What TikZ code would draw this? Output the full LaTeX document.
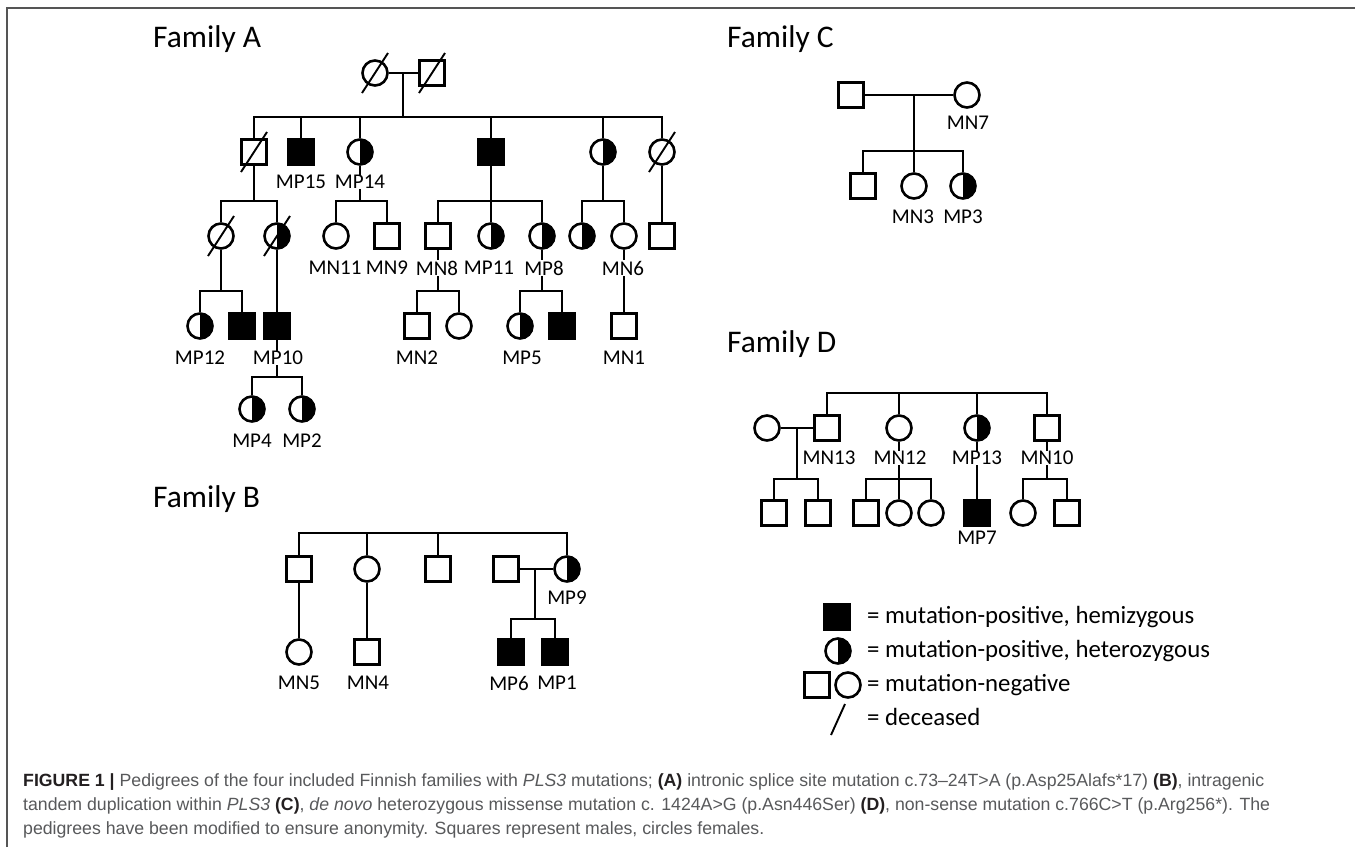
\documentclass[tikz,border=0pt]{standalone}
\usepackage{fontspec}
\setmainfont{Carlito}
\newfontfamily\capfont{Liberation Sans}
\usetikzlibrary{calc}
\definecolor{capgray}{HTML}{58595B}
\definecolor{capdark}{HTML}{231F20}
\definecolor{framegray}{HTML}{555555}
\newcommand\deceasedmark[1]{\draw[line width=1.9pt] ($(#1)+(-13,20)$) -- ($(#1)+(13,-20)$);}
\begin{document}
\begin{tikzpicture}[x=1pt,y=-1pt,
  ln/.style={line width=2.6pt},
  male/.style={draw, line width=2.6pt, rectangle, minimum size=24.5pt, inner sep=0pt, fill=white},
  female/.style={draw, line width=2.6pt, circle, minimum size=25pt, inner sep=0pt, fill=white},
  aff/.style={fill=black},
  het/.style={path picture={\fill[black] (path picture bounding box.north) rectangle (path picture bounding box.south east);}},
  lab/.style={font=\fontsize{21}{21}\selectfont, fill=white, inner sep=0.4pt},
  famtitle/.style={font=\fontsize{31.5}{31.5}\selectfont, anchor=base west, inner sep=0pt},
  legtext/.style={font=\fontsize{24.8}{24.8}\selectfont, anchor=base west, inner sep=0pt},
  captext/.style={font=\capfont\fontsize{17.7}{17.7}\selectfont, text=capgray, anchor=base west, inner sep=0pt},
]
\useasboundingbox (0,0) rectangle (1355,847);
\fill[white] (0,0) rectangle (1355,847);
\draw[framegray, line width=2pt] (7,847) -- (7,8) -- (1355,8);

% ---------------- Family A ----------------
\node[famtitle] (tA) at (153,47) {Family A};
\node[female] (a1) at (375,73) {};
\node[male] (a2) at (432,73) {};
\coordinate (ma) at (403,73);
\coordinate (sa) at (403,117);
\node[male] (a3) at (254,152) {};
\node[male,aff] (a4) at (301,152) {};
\node[female,het] (a5) at (360,152) {};
\node[male,aff] (a6) at (491,152) {};
\node[female,het] (a7) at (603,152) {};
\node[female] (a8) at (662,152) {};

\node[female] (b1) at (221,236) {};
\node[female,het] (b2) at (277,236) {};
\node[female] (b3) at (336,236) {};
\node[male] (b4) at (387,236) {};
\node[male] (b5) at (438,236) {};
\node[female,het] (b6) at (491,236) {};
\node[female,het] (b7) at (542,236) {};
\node[female,het] (b8) at (582,236) {};
\node[female] (b9) at (624,236) {};
\node[male] (b10) at (662,236) {};
\coordinate (sb1) at (254,201);
\coordinate (sb2) at (360,201);
\coordinate (sb3) at (491,201);
\coordinate (sb4) at (603,201);

\node[female,het] (c1) at (200,326) {};
\node[male,aff] (c2) at (242,326) {};
\node[male,aff] (c3) at (277,326) {};
\node[male] (c4) at (417,326) {};
\node[female] (c5) at (459,326) {};
\node[female,het] (c6) at (520,326) {};
\node[male,aff] (c7) at (562,326) {};
\node[male] (c8) at (624,326) {};
\coordinate (sc1) at (221,291);
\coordinate (sc2) at (438,291);
\coordinate (sc3) at (542,291);

\node[female,het] (d1) at (252,409) {};
\node[female,het] (d2) at (302,409) {};
\coordinate (sd1) at (277,377);

\draw[ln] (a1) -- (a2);
\draw[ln] (ma) -- (sa);
\foreach \n in {a3,a4,a5,a6,a7,a8} \draw[ln] (sa) -| (\n.north);
\draw[ln] (a3) -- (sb1);
\foreach \n in {b1,b2} \draw[ln] (sb1) -| (\n.north);
\draw[ln] (a5) -- (sb2);
\foreach \n in {b3,b4} \draw[ln] (sb2) -| (\n.north);
\draw[ln] (a6) -- (b6);
\foreach \n in {b5,b7} \draw[ln] (sb3) -| (\n.north);
\draw[ln] (a7) -- (sb4);
\foreach \n in {b8,b9} \draw[ln] (sb4) -| (\n.north);
\draw[ln] (a8) -- (b10);
\draw[ln] (b1) -- (sc1);
\foreach \n in {c1,c2} \draw[ln] (sc1) -| (\n.north);
\draw[ln] (b2) -- (c3);
\draw[ln] (b5) -- (sc2);
\foreach \n in {c4,c5} \draw[ln] (sc2) -| (\n.north);
\draw[ln] (b7) -- (sc3);
\foreach \n in {c6,c7} \draw[ln] (sc3) -| (\n.north);
\draw[ln] (b9) -- (c8);
\draw[ln] (c3) -- (sd1);
\foreach \n in {d1,d2} \draw[ln] (sd1) -| (\n.north);

\deceasedmark{a1}\deceasedmark{a2}\deceasedmark{a3}\deceasedmark{a8}
\deceasedmark{b1}\deceasedmark{b2}

\node[lab] at (301,182) {MP15};
\node[lab] at (360,182) {MP14};
\node[lab] at (335,268) {MN11};
\node[lab] at (387,268) {MN9};
\node[lab] at (437,268) {MN8};
\node[lab] at (489,268) {MP11};
\node[lab] at (544,268) {MP8};
\node[lab] at (623,268) {MN6};
\node[lab] at (200,358) {MP12};
\node[lab] at (278,358) {MP10};
\node[lab] at (417,358) {MN2};
\node[lab] at (522,358) {MP5};
\node[lab] at (624,358) {MN1};
\node[lab] at (252,441) {MP4};
\node[lab] at (302,441) {MP2};

% ---------------- Family B ----------------
\node[famtitle] (tB) at (153,507) {Family B};
\coordinate (tb) at (433,533);
\node[male] (e1) at (299,569) {};
\node[female] (e2) at (367,569) {};
\node[male] (e3) at (438,569) {};
\node[male] (e4) at (506,569) {};
\node[female,het] (e5) at (567,569) {};
\coordinate (mb) at (535,569);
\coordinate (sbB) at (535,619);
\node[male,aff] (e6) at (511,652) {};
\node[male,aff] (e7) at (555,652) {};
\node[female] (e8) at (299,652) {};
\node[male] (e9) at (367,652) {};
\foreach \n in {e1,e2,e3,e5} \draw[ln] (tb) -| (\n.north);
\draw[ln] (e4) -- (e5);
\draw[ln] (mb) -- (sbB);
\foreach \n in {e6,e7} \draw[ln] (sbB) -| (\n.north);
\draw[ln] (e1) -- (e8);
\draw[ln] (e2) -- (e9);
\node[lab] at (567,598) {MP9};
\node[lab] at (299,683) {MN5};
\node[lab] at (368,683) {MN4};
\node[lab] at (509,683) {MP6};
\node[lab] at (557,683) {MP1};

% ---------------- Family C ----------------
\node[famtitle] (tC) at (727,47) {Family C};
\node[male] (f1) at (851,95) {};
\node[female] (f2) at (967,95) {};
\coordinate (mc) at (914,95);
\coordinate (sC) at (914,151);
\node[male] (f3) at (863,186) {};
\node[female] (f4) at (914,186) {};
\node[female,het] (f5) at (963,186) {};
\draw[ln] (f1) -- (f2);
\draw[ln] (mc) -- (f4);
\foreach \n in {f3,f5} \draw[ln] (sC) -| (\n.north);
\node[lab] at (968,123) {MN7};
\node[lab] at (913,217) {MN3};
\node[lab] at (963,217) {MP3};

% ---------------- Family D ----------------
\node[famtitle] (tD) at (727,352) {Family D};
\coordinate (td) at (937,393);
\node[female] (g0) at (767,428) {};
\node[male] (g1) at (827,428) {};
\node[female] (g2) at (899,428) {};
\node[female,het] (g3) at (977,428) {};
\node[male] (g4) at (1047,428) {};
\coordinate (md) at (797,428);
\coordinate (sD1) at (797,479);
\coordinate (sD2) at (899,479);
\coordinate (sD3) at (1047,479);
\node[male] (h1) at (774,513) {};
\node[male] (h2) at (818,513) {};
\node[male] (h3) at (866,513) {};
\node[female] (h4) at (899,513) {};
\node[female] (h5) at (931,513) {};
\node[male,aff] (h6) at (977,513) {};
\node[female] (h7) at (1023,513) {};
\node[male] (h8) at (1067,513) {};
\foreach \n in {g1,g2,g3,g4} \draw[ln] (td) -| (\n.north);
\draw[ln] (g0) -- (g1);
\draw[ln] (md) -- (sD1);
\foreach \n in {h1,h2} \draw[ln] (sD1) -| (\n.north);
\draw[ln] (g2) -- (h4);
\foreach \n in {h3,h5} \draw[ln] (sD2) -| (\n.north);
\draw[ln] (g3) -- (h6);
\draw[ln] (g4) -- (sD3);
\foreach \n in {h7,h8} \draw[ln] (sD3) -| (\n.north);
\node[lab] at (829,458) {MN13};
\node[lab] at (900,458) {MN12};
\node[lab] at (977,458) {MP13};
\node[lab] at (1047,458) {MN10};
\node[lab] at (977,538) {MP7};

% ---------------- Legend ----------------
\node[male,aff] (L1) at (837,617) {};
\node[female,het] (L2) at (838,651) {};
\node[male] (L3) at (817,685) {};
\node[female] (L4) at (848,685) {};
\coordinate (L5) at (838,719);
\draw[line width=1.9pt] ($(L5)+(-7,16)$) -- ($(L5)+(7,-15)$);
\node[legtext] at (867,623) {= mutation-positive, hemizygous};
\node[legtext] at (867,657) {= mutation-positive, heterozygous};
\node[legtext] at (867,691) {= mutation-negative};
\node[legtext] at (867,725) {= deceased};

% ---------------- Caption ----------------
\node[captext] (cap1) at (23,786) {\textcolor{capdark}{\textbf{FIGURE 1 |}} Pedigrees of the four included Finnish families with \textit{PLS3} mutations; \textcolor{capdark}{\textbf{(A)}} intronic splice site mutation c.73–24T>A (p.Asp25Alafs*17) \textcolor{capdark}{\textbf{(B)}}, intragenic};
\node[captext] (cap2) at (23,810) {tandem duplication within \textit{PLS3} \textcolor{capdark}{\textbf{(C)}}, \textit{de novo} heterozygous missense mutation c. 1424A>G (p.Asn446Ser) \textcolor{capdark}{\textbf{(D)}}, non-sense mutation c.766C>T (p.Arg256*). The};
\node[captext] (cap3) at (23,834) {pedigrees have been modified to ensure anonymity. Squares represent males, circles females.};
\end{tikzpicture}
\end{document}
